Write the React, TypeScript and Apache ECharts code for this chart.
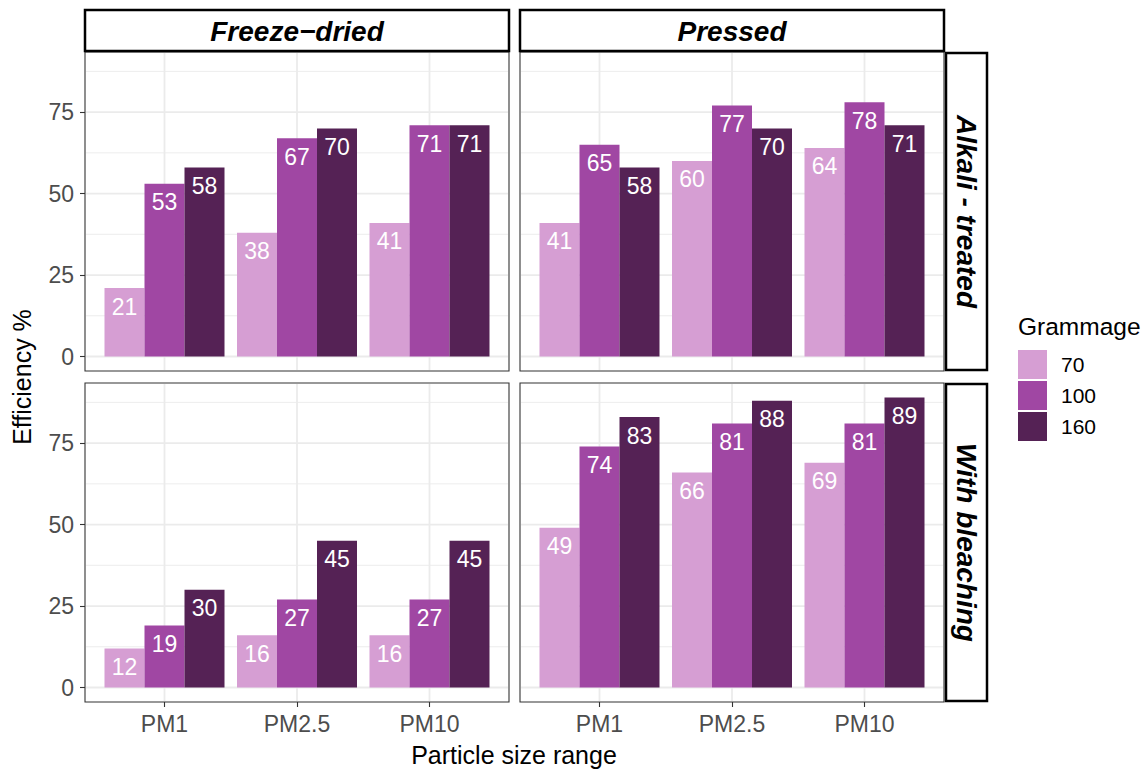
import React, { useEffect, useRef } from 'react';
import * as echarts from 'echarts';

// ---- data ----
const categories = ['PM1', 'PM2.5', 'PM10'];
const categoryPositions = [1, 2, 3];
const grammages = ['70', '100', '160'];
const columnLabels = ['Freeze−dried', 'Pressed'];
const rowLabels = ['Alkali - treated', 'With bleaching'];

const alkaliFreeze70 = [21, 38, 41];
const alkaliFreeze100 = [53, 67, 71];
const alkaliFreeze160 = [58, 70, 71];
const alkaliPressed70 = [41, 60, 64];
const alkaliPressed100 = [65, 77, 78];
const alkaliPressed160 = [58, 70, 71];
const bleachFreeze70 = [12, 16, 16];
const bleachFreeze100 = [19, 27, 27];
const bleachFreeze160 = [30, 45, 45];
const bleachPressed70 = [49, 66, 69];
const bleachPressed100 = [74, 81, 81];
const bleachPressed160 = [83, 88, 89];

const yTicks = [0, 25, 50, 75];
const yMinorBreaks = [12.5, 37.5, 62.5, 87.5];

// ---- styles / layout ----
const colors = ['#D69ED3', '#A047A3', '#552255'];
const FONT = '"Liberation Sans", Arial, Helvetica, sans-serif';
const panelLeft = [85, 520];
const panelTop = [52, 383];
const panelW = 424;
const panelH = 319;
const Y_MIN = -4.45;
const Y_MAX = 93.45;

const panels = [
  [alkaliFreeze70, alkaliFreeze100, alkaliFreeze160],
  [alkaliPressed70, alkaliPressed100, alkaliPressed160],
  [bleachFreeze70, bleachFreeze100, bleachFreeze160],
  [bleachPressed70, bleachPressed100, bleachPressed160],
];

function buildOption() {
  const grid: any[] = [];
  const xAxis: any[] = [];
  const yAxis: any[] = [];
  const series: any[] = [];

  const gridData: number[][] = [];
  yTicks.forEach((v) => gridData.push([0, v, 1]));
  yMinorBreaks.forEach((v) => gridData.push([0, v, 0]));
  categoryPositions.forEach((v) => gridData.push([1, v, 1]));

  for (let r = 0; r < 2; r++) {
    for (let c = 0; c < 2; c++) {
      const i = r * 2 + c;
      grid.push({
        left: panelLeft[c],
        top: panelTop[r],
        width: panelW,
        height: panelH,
        show: true,
        backgroundColor: '#ffffff',
        borderColor: '#333333',
        borderWidth: 1.1,
      });
      xAxis.push({
        type: 'value',
        gridIndex: i,
        min: 0.4,
        max: 3.6,
        axisLine: { show: false, onZero: false },
        splitLine: { show: false },
        axisTick: {
          show: r === 1,
          customValues: categoryPositions,
          length: 5,
          lineStyle: { color: '#333333', width: 1.1 },
        },
        axisLabel: {
          show: r === 1,
          customValues: categoryPositions,
          formatter: (v: number) => categories[Math.round(v) - 1] ?? '',
          color: '#4D4D4D',
          fontSize: 23,
          fontFamily: FONT,
          margin: 10,
        },
      });
      yAxis.push({
        type: 'value',
        gridIndex: i,
        min: Y_MIN,
        max: Y_MAX,
        axisLine: { show: false, onZero: false },
        splitLine: { show: false },
        axisTick: {
          show: c === 0,
          customValues: yTicks,
          length: 5,
          lineStyle: { color: '#333333', width: 1.1 },
        },
        axisLabel: {
          show: c === 0,
          customValues: yTicks,
          color: '#4D4D4D',
          fontSize: 23,
          fontFamily: FONT,
          margin: 11,
        },
      });
      series.push({
        type: 'custom',
        xAxisIndex: i,
        yAxisIndex: i,
        silent: true,
        z: 1,
        data: gridData,
        renderItem: (params: any, api: any) => {
          const cs = params.coordSys;
          const kind = api.value(0);
          const v = api.value(1);
          const major = api.value(2);
          const style = { stroke: '#EBEBEB', lineWidth: major ? 1.8 : 0.9 };
          if (kind === 0) {
            const y = api.coord([1, v])[1];
            return { type: 'line', shape: { x1: cs.x + 1, y1: y, x2: cs.x + cs.width - 1, y2: y }, style };
          }
          const x = api.coord([v, 0])[0];
          return { type: 'line', shape: { x1: x, y1: cs.y + 1, x2: x, y2: cs.y + cs.height - 1 }, style };
        },
      });
      panels[i].forEach((vals, k) => {
        series.push({
          type: 'bar',
          name: grammages[k],
          xAxisIndex: i,
          yAxisIndex: i,
          z: 2,
          barWidth: 40,
          barGap: '0%',
          data: vals.map((v, j) => [categoryPositions[j], v]),
          itemStyle: { color: colors[k] },
          label: {
            show: true,
            position: 'insideTop',
            distance: 7,
            color: '#ffffff',
            fontSize: 23,
            fontFamily: FONT,
            formatter: (p: any) => String(p.value[1]),
          },
        });
      });
    }
  }

  const graphic: any[] = [];
  // top strips
  for (let c = 0; c < 2; c++) {
    graphic.push({
      type: 'rect',
      z: 100,
      shape: { x: panelLeft[c], y: 10, width: panelW, height: 41 },
      style: { fill: '#ffffff', stroke: '#000000', lineWidth: 2.5 },
    });
    graphic.push({
      type: 'text',
      z: 101,
      x: panelLeft[c] + panelW / 2,
      y: 31,
      style: {
        text: columnLabels[c],
        fontSize: 28,
        fontWeight: 'bold',
        fontStyle: 'italic',
        fontFamily: FONT,
        fill: '#000000',
        align: 'center',
        verticalAlign: 'middle',
      },
    });
  }
  // right strips
  for (let r = 0; r < 2; r++) {
    graphic.push({
      type: 'rect',
      z: 100,
      shape: { x: 946, y: panelTop[r] + 1, width: 41, height: panelH - 2 },
      style: { fill: '#ffffff', stroke: '#000000', lineWidth: 2.5 },
    });
    graphic.push({
      type: 'text',
      z: 101,
      x: 966.5,
      y: panelTop[r] + panelH / 2,
      rotation: -Math.PI / 2,
      style: {
        text: rowLabels[r],
        fontSize: 28,
        fontWeight: 'bold',
        fontStyle: 'italic',
        fontFamily: FONT,
        fill: '#000000',
        align: 'center',
        verticalAlign: 'middle',
      },
    });
  }
  graphic.push({
    type: 'text',
    z: 101,
    x: 22,
    y: 377,
    rotation: Math.PI / 2,
    style: {
      text: 'Efficiency %',
      fontSize: 25,
      fontFamily: FONT,
      fill: '#000000',
      align: 'center',
      verticalAlign: 'middle',
    },
  });
  graphic.push({
    type: 'text',
    z: 101,
    x: 514,
    y: 755,
    style: {
      text: 'Particle size range',
      fontSize: 25,
      fontFamily: FONT,
      fill: '#000000',
      align: 'center',
      verticalAlign: 'middle',
    },
  });
  graphic.push({
    type: 'text',
    z: 101,
    x: 1018,
    y: 326,
    style: {
      text: 'Grammage',
      fontSize: 24.5,
      fontFamily: FONT,
      fill: '#000000',
      align: 'left',
      verticalAlign: 'middle',
    },
  });

  return {
    animation: false,
    backgroundColor: '#ffffff',
    textStyle: { fontFamily: FONT },
    grid,
    xAxis,
    yAxis,
    series,
    graphic,
    legend: {
      data: grammages,
      orient: 'vertical',
      left: 1018,
      top: 350,
      padding: 0,
      itemWidth: 29,
      itemHeight: 29,
      itemGap: 2,
      icon: 'rect',
      selectedMode: false,
      textStyle: { fontSize: 21, color: '#000000', fontFamily: FONT, padding: [0, 0, 0, 9] },
    },
  };
}

export default function App() {
  const ref = useRef<HTMLDivElement>(null);
  useEffect(() => {
    document.body.style.margin = '0';
    if (!ref.current) return;
    const chart = echarts.init(ref.current, undefined, { renderer: 'svg' });
    chart.setOption(buildOption() as any);
    return () => chart.dispose();
  }, []);
  return <div ref={ref} style={{ width: 1146, height: 771 }} />;
}
